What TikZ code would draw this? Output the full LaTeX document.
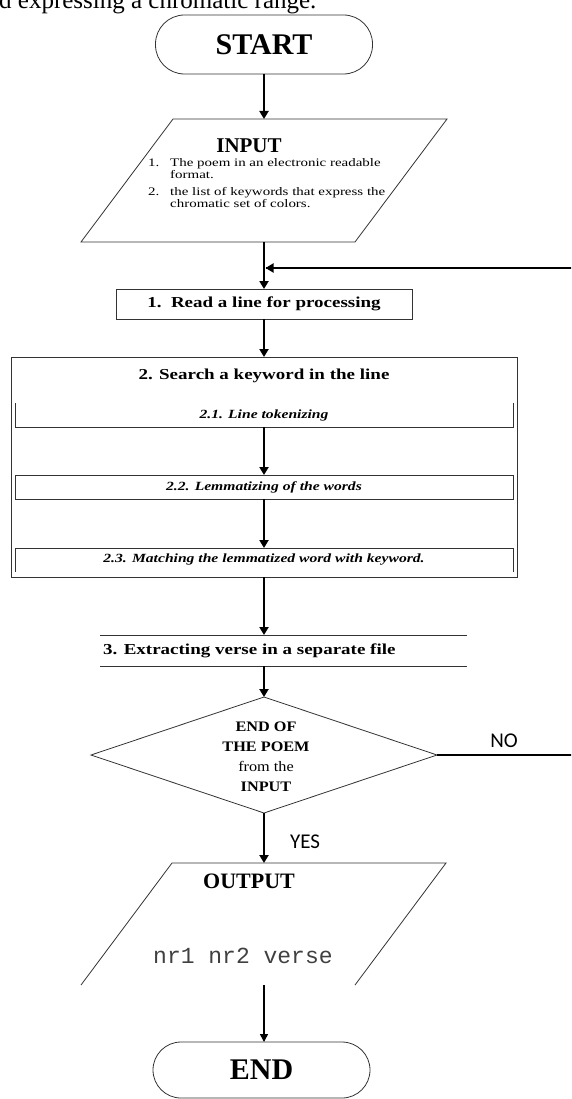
\documentclass[tikz,border=0pt]{standalone}
\usepackage{fontspec}
\setmainfont{Liberation Serif}
\newfontfamily\wideserif[FakeStretch=1.25]{Liberation Serif}
\newfontfamily\midserif[FakeStretch=1.12]{Liberation Serif}
\newfontfamily\listserif[FakeStretch=1.3]{Liberation Serif}
\newfontfamily\labsans{Carlito}
\newfontfamily\labmono{Liberation Mono}
\usetikzlibrary{arrows.meta}
\begin{document}
\begin{tikzpicture}[x=1pt,y=-1pt,
  outline/.style={draw=black!80, line width=0.8pt},
  flow/.style={draw=black, line width=2.5pt, -{Triangle[length=8pt,width=9pt]}},
  thinflow/.style={draw=black, line width=1.5pt, -{Triangle[length=8pt,width=8pt]}},
  loopline/.style={draw=black, line width=2.8pt},
  frame/.style={inner sep=0pt, outer sep=0pt},
  boxtext/.style={font=\wideserif\fontsize{15.2}{18}\selectfont\bfseries},
  subtext/.style={font=\wideserif\fontsize{12.5}{15}\selectfont\bfseries\itshape},
  listtext/.style={anchor=base west, inner sep=0pt, font=\listserif\fontsize{11.5}{13}\selectfont},
  termtext/.style={font=\fontsize{30}{34}\selectfont\bfseries},
  yesno/.style={inner sep=0pt, font=\labsans\fontsize{21}{24}\selectfont}
]
\useasboundingbox (0,0) rectangle (571,1099);
\begin{scope}
\clip (0,0) rectangle (571,1099);

% caption fragment at the top
\node[anchor=base west, inner sep=0pt, font=\fontsize{25}{30}\selectfont] (caption) at (-1,9) {d expressing a chromatic range.};

% START
\node[outline, frame, rounded corners=29pt, minimum width=217pt, minimum height=59pt, termtext] (start) at (264,44.5) {START};

% INPUT parallelogram
\node[frame, minimum width=274pt, minimum height=123pt] (input) at (264,180.5) {};
\draw[outline] (173,119) -- (447,119) -- (355,242) -- (81,242) -- cycle;
\node[anchor=base, inner sep=0pt, font=\fontsize{21}{24}\selectfont\bfseries] (inputtitle) at (249,153) {INPUT};
\node[listtext] (in1n) at (148,167) {1.};
\node[listtext] (in1a) at (170,167) {The poem in an electronic readable};
\node[listtext] (in1b) at (170,179) {format.};
\node[listtext] (in2n) at (148,196) {2.};
\node[listtext] (in2a) at (170,196) {the list of keywords that express the};
\node[listtext] (in2b) at (170,208) {chromatic set of colors.};

% 1. Read
\node[outline, frame, minimum width=296pt, minimum height=30pt, boxtext] (read) at (264,304) {1.\ \ Read a line for processing};

% 2. Search box
\node[outline, frame, minimum width=506pt, minimum height=220pt] (search) at (264,467) {};
\node[boxtext, inner sep=0pt] (searchtitle) at (264,376) {2. Search a keyword in the line};
\node[frame, minimum width=498pt, minimum height=24pt, subtext] (tok) at (264,415) {2.1. Line tokenizing};
\draw[outline] (tok.north west) -- (tok.south west) -- (tok.south east) -- (tok.north east);
\node[outline, frame, minimum width=498pt, minimum height=24pt, subtext] (lem) at (264,487) {2.2. Lemmatizing of the words};
\node[frame, minimum width=498pt, minimum height=24pt, subtext] (match) at (264,560) {2.3. Matching the lemmatized word with keyword.};
\draw[outline] (match.south west) -- (match.north west) -- (match.north east) -- (match.south east);

% 3. Extracting
\node[frame, minimum width=367pt, minimum height=31pt] (extract) at (283.5,650.5) {};
\draw[outline] (extract.north west) -- (extract.north east);
\draw[outline] (extract.south west) -- (extract.south east);
\node[boxtext, anchor=west, inner sep=0pt] (extracttext) at (103,650.5) {3. Extracting verse in a separate file};

% decision
\node[frame, minimum width=346pt, minimum height=116pt] (dec) at (264,755) {};
\draw[outline] (dec.north) -- (dec.east) -- (dec.south) -- (dec.west) -- cycle;
\node[align=center, inner sep=0pt, font=\midserif\fontsize{14.5}{20}\selectfont] (dectext) at (266,757)
  {\bfseries END OF\\ \bfseries THE POEM\\ from the\\ \bfseries INPUT};
\node[yesno] (nolabel) at (504,741) {NO};
\node[yesno] (yeslabel) at (305,842) {YES};

% OUTPUT
\node[frame, minimum width=274pt, minimum height=122pt] (output) at (264,924) {};
\draw[outline] (81,985) -- (172,863) -- (446,863) -- (355,985);
\node[inner sep=0pt, font=\fontsize{22}{24}\selectfont\bfseries] (outtitle) at (249,881) {OUTPUT};
\node[anchor=west, inner sep=0pt, text=black!75, font=\labmono\fontsize{23}{26}\selectfont] (outtext) at (153,956) {nr1 nr2 verse};

% END
\node[outline, frame, rounded corners=28pt, minimum width=217pt, minimum height=56pt, termtext] (end) at (261.5,1070) {END};

% connectors
\draw[flow] (start.south) -- (input.north);
\draw[flow] (input.south) -- (read.north);
\draw[flow] (read.south) -- (search.north);
\draw[flow] (tok.south) -- (lem.north);
\draw[flow] (lem.south) -- (match.north);
\draw[flow] (search.south) -- (search.south |- extract.north);
\draw[flow] (search.south |- extract.south) -- (dec.north);
\draw[flow] (dec.south) -- (output.north);
\draw[thinflow] (output.south) -- (output.south |- end.north);

\coordinate (loopbottom) at (600,755);
\coordinate (looptop) at (600,268);
\coordinate (join) at (265.5,268);
\draw[loopline] (dec.east) -- (loopbottom) -- (looptop) -- (join);
\draw[loopline, -{Triangle[length=8pt,width=9pt]}] (300,268) -- (join);
\end{scope}
\end{tikzpicture}
\end{document}
